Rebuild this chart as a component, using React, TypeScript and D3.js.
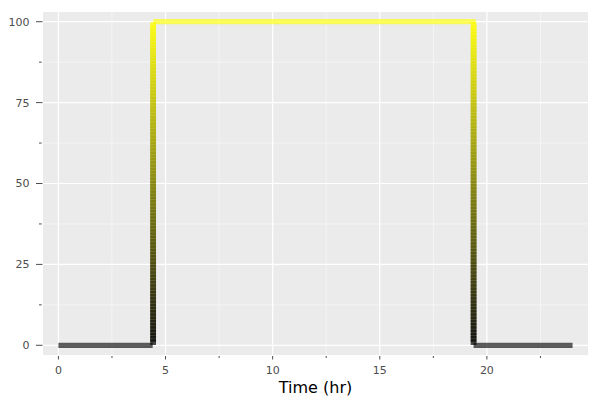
import React from "react";
import * as d3 from "d3";

// Light level (%) over a day
const segStart = [0, 4.43, 19.38];
const segEnd = [4.4, 19.48, 24];
const segLevel = [0, 100, 0];

// transitions (sunrise / sunset) drawn as stacked squares
const rampTimes = [4.42, 19.38];
const rampLevels = [
  1, 2, 3, 4, 5, 6, 7, 8, 9, 10, 11, 12, 13, 14, 15, 16, 17, 18, 19, 20,
  21, 22, 23, 24, 25, 26, 27, 28, 29, 30, 31, 32, 33, 34, 35, 36, 37, 38, 39, 40,
  41, 42, 43, 44, 45, 46, 47, 48, 49, 50, 51, 52, 53, 54, 55, 56, 57, 58, 59, 60,
  61, 62, 63, 64, 65, 66, 67, 68, 69, 70, 71, 72, 73, 74, 75, 76, 77, 78, 79, 80,
  81, 82, 83, 84, 85, 86, 87, 88, 89, 90, 91, 92, 93, 94, 95, 96, 97, 98, 99,
];

const xTicks = [0, 5, 10, 15, 20];
const xMinor = [2.5, 7.5, 12.5, 17.5, 22.5];
const yTicks = [0, 25, 50, 75, 100];
const yMinor = [12.5, 37.5, 62.5, 87.5];
const xLabel = "Time (hr)";

const W = 600, H = 400;
const P = { left: 43, right: 588, top: 12, bottom: 355 };

export default function App() {
  const x = d3.scaleLinear().domain([-0.72, 24.72]).range([P.left, P.right]);
  const y = d3.scaleLinear().domain([-3, 103]).range([P.bottom, P.top]);
  const color = d3.scaleLinear<string>().domain([0, 100]).range(["#000000", "#ffff00"]).interpolate(d3.interpolateRgb);
  const sq = 5.8;
  const font = "DejaVu Sans, sans-serif";

  return (
    <svg width={W} height={H} style={{ position: "absolute", left: 0, top: 0, background: "#fff" }}>
      <rect x={P.left} y={P.top} width={P.right - P.left} height={P.bottom - P.top} fill="#ebebeb" />
      {xMinor.map((t) => (
        <line key={"xm" + t} x1={x(t)} x2={x(t)} y1={P.top} y2={P.bottom} stroke="#fff" strokeWidth={0.6} strokeOpacity={0.8} />
      ))}
      {yMinor.map((t) => (
        <line key={"ym" + t} x1={P.left} x2={P.right} y1={y(t)} y2={y(t)} stroke="#fff" strokeWidth={0.6} strokeOpacity={0.8} />
      ))}
      {xTicks.map((t) => (
        <line key={"xg" + t} x1={x(t)} x2={x(t)} y1={P.top} y2={P.bottom} stroke="#fff" strokeWidth={1.2} />
      ))}
      {yTicks.map((t) => (
        <line key={"yg" + t} x1={P.left} x2={P.right} y1={y(t)} y2={y(t)} stroke="#fff" strokeWidth={1.2} />
      ))}

      {/* axis ticks */}
      {xTicks.map((t) => (
        <g key={"xt" + t}>
          <line x1={x(t)} x2={x(t)} y1={P.bottom + 1} y2={P.bottom + 4.5} stroke="#4d4d4d" strokeWidth={1} />
          <text x={x(t)} y={373.5} textAnchor="middle" fontFamily={font} fontSize={11} fill="#4d4d4d">{t}</text>
        </g>
      ))}
      {xMinor.map((t) => (
        <line key={"xmt" + t} x1={x(t)} x2={x(t)} y1={P.bottom + 1} y2={P.bottom + 3} stroke="#4d4d4d" strokeWidth={1} />
      ))}
      {yTicks.map((t) => (
        <g key={"yt" + t}>
          <line x1={36} x2={42.5} y1={y(t)} y2={y(t)} stroke="#4d4d4d" strokeWidth={1} />
          <text x={29.5} y={y(t)} dy="0.36em" textAnchor="end" fontFamily={font} fontSize={11} fill="#4d4d4d">{t}</text>
        </g>
      ))}
      {yMinor.map((t) => (
        <line key={"ymt" + t} x1={39} x2={41.7} y1={y(t)} y2={y(t)} stroke="#4d4d4d" strokeWidth={1} />
      ))}

      {/* level lines */}
      {segStart.map((s, i) => (
        <line key={"seg" + i} x1={x(s)} x2={x(segEnd[i])} y1={y(segLevel[i])} y2={y(segLevel[i])}
          stroke={color(segLevel[i])} strokeOpacity={0.63} strokeWidth={5.3} />
      ))}

      {/* transition squares */}
      {rampTimes.map((t, j) => (
        <g key={"ramp" + j}>
          {rampLevels.map((v) => (
            <rect key={v} x={x(t) - sq / 2} y={y(v) - sq / 2} width={sq} height={sq} fill={color(v)} fillOpacity={0.72} />
          ))}
        </g>
      ))}

      <text x={(P.left + P.right) / 2} y={393} textAnchor="middle" fontFamily={font} fontSize={16} fill="#000">{xLabel}</text>
    </svg>
  );
}
